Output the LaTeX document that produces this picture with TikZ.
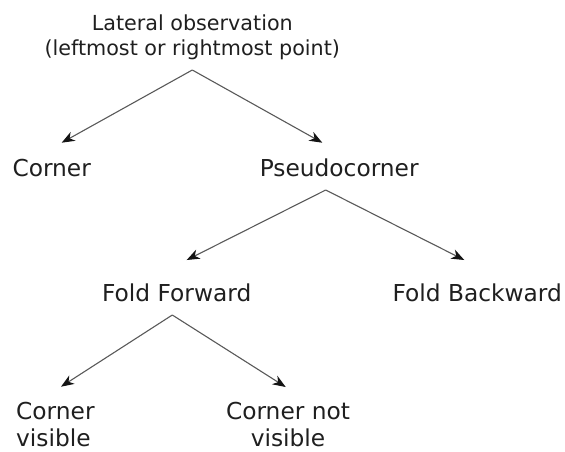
\documentclass[tikz,border=0pt]{standalone}
\usepackage{fontspec}
\setmainfont{DejaVu Sans}
\usetikzlibrary{arrows.meta}
\begin{document}
\begin{tikzpicture}[x=1pt,y=-1pt,
  lbl/.style={inner sep=0pt, anchor=base, font=\fontsize{23.3}{27.1}\selectfont, text=black!88},
  toplbl/.style={lbl, font=\fontsize{20.7}{24.3}\selectfont, align=center},
  arr/.style={draw=black!65, line width=1.1pt, -{Stealth[length=13pt,width=10pt,inset=4pt,color=black!92]}}]
\useasboundingbox (0,0) rectangle (565,451);
% nodes
\node[toplbl] (top) at (192.3,55) {Lateral observation\\(leftmost or rightmost point)};
\node[lbl] (corner) at (51.7,176.7) {Corner};
\node[lbl] (pseudo) at (339.2,176.7) {Pseudocorner};
\node[lbl] (ff) at (176.7,301.7) {Fold Forward};
\node[lbl] (fb) at (477.2,301.7) {Fold Backward};
\node[lbl, align=left, anchor=north west] (cv) at (16,402) {Corner\\visible};
\node[lbl, align=center, anchor=north] (cnv) at (288,402) {Corner not\\visible};
% connector end points
\coordinate (topS) at (192.3,70);
\coordinate (cornerN) at (61.7,142.7);
\coordinate (pseudoN) at (322.3,142.7);
\coordinate (pseudoS) at (325.7,190);
\coordinate (ffN) at (186.7,260);
\coordinate (fbN) at (464.3,260);
\coordinate (ffS) at (172.3,315);
\coordinate (cvN) at (61,386.7);
\coordinate (cnvN) at (285.7,387);
% connectors
\draw[arr] (topS) -- (cornerN);
\draw[arr] (topS) -- (pseudoN);
\draw[arr] (pseudoS) -- (ffN);
\draw[arr] (pseudoS) -- (fbN);
\draw[arr] (ffS) -- (cvN);
\draw[arr] (ffS) -- (cnvN);
\end{tikzpicture}
\end{document}
